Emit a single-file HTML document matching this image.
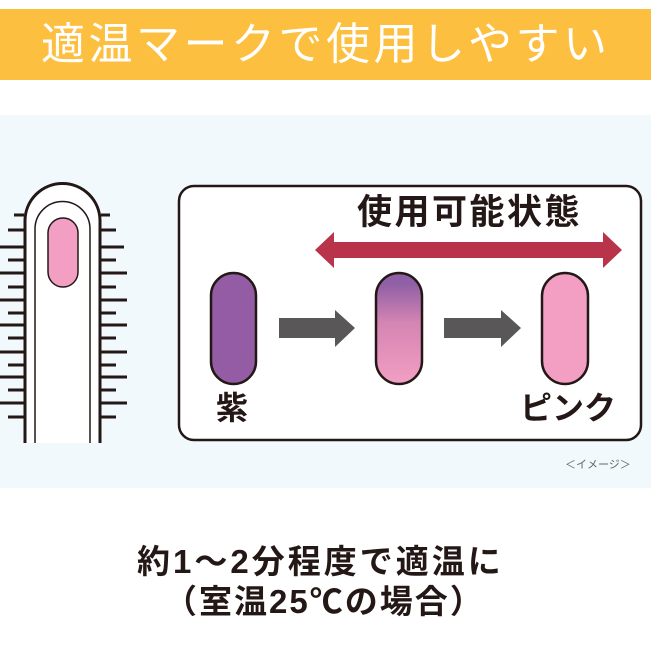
<!DOCTYPE html>
<html><head><meta charset="utf-8"><style>
html,body{margin:0;padding:0;background:#fff;}
body{width:651px;height:652px;position:relative;overflow:hidden;font-family:"Liberation Sans","Noto Sans CJK JP",sans-serif;}
.abs{position:absolute;}
.t{position:absolute;white-space:nowrap;line-height:1;}
</style></head><body>
<div class="abs" style="left:0;top:9px;width:651px;height:71px;background:#fdbf40;"></div>
<div class="t" style="left:41px;top:23px;font-size:44px;letter-spacing:3.5px;color:#fff;">適温マークで使用しやすい</div>
<div class="abs" style="left:0;top:115px;width:651px;height:373px;background:#f1f9fc;"></div>
<svg class="abs" style="left:0;top:0" width="651" height="652">
  <defs>
    <linearGradient id="g" x1="0" y1="0" x2="0" y2="1">
      <stop offset="0.1" stop-color="#9060a6"/><stop offset="0.45" stop-color="#d585b3"/><stop offset="1" stop-color="#f29fc3"/>
    </linearGradient>
  </defs>
  <g stroke="#231815" stroke-width="3">
    <line x1="14" y1="215" x2="24" y2="215"/><line x1="8" y1="230" x2="24" y2="230"/>
    <line x1="0" y1="247" x2="24" y2="247"/><line x1="8" y1="260" x2="24" y2="260"/>
    <line x1="0" y1="273" x2="24" y2="273"/><line x1="8" y1="287" x2="24" y2="287"/>
    <line x1="0" y1="300" x2="24" y2="300"/><line x1="8" y1="313" x2="24" y2="313"/>
    <line x1="0" y1="325" x2="24" y2="325"/><line x1="8" y1="338" x2="24" y2="338"/>
    <line x1="0" y1="352" x2="24" y2="352"/><line x1="8" y1="365" x2="24" y2="365"/>
    <line x1="0" y1="377" x2="24" y2="377"/><line x1="8" y1="390" x2="24" y2="390"/>
    <line x1="0" y1="403" x2="24" y2="403"/><line x1="8" y1="417" x2="24" y2="417"/>
    <line x1="101" y1="215" x2="110" y2="215"/><line x1="101" y1="230" x2="116" y2="230"/>
    <line x1="101" y1="247" x2="124" y2="247"/><line x1="101" y1="260" x2="116" y2="260"/>
    <line x1="101" y1="273" x2="127" y2="273"/><line x1="101" y1="287" x2="116" y2="287"/>
    <line x1="101" y1="300" x2="127" y2="300"/><line x1="101" y1="313" x2="116" y2="313"/>
    <line x1="101" y1="325" x2="127" y2="325"/><line x1="101" y1="338" x2="116" y2="338"/>
    <line x1="101" y1="352" x2="127" y2="352"/><line x1="101" y1="365" x2="116" y2="365"/>
    <line x1="101" y1="377" x2="127" y2="377"/><line x1="101" y1="390" x2="116" y2="390"/>
    <line x1="101" y1="403" x2="127" y2="403"/><line x1="101" y1="417" x2="116" y2="417"/>
  </g>
  <path d="M25 443 V221 A37.5 37.5 0 0 1 100 221 V443" fill="#fff" stroke="#231815" stroke-width="3"/>
  <path d="M35 443 V229 A27.5 27.5 0 0 1 90 229 V443" fill="none" stroke="#231815" stroke-width="1.5"/>
  <rect x="48" y="218" width="30" height="69" rx="15" fill="#f29fc3" stroke="#231815" stroke-width="1.5"/>
  <rect x="179" y="186" width="462" height="254" rx="15" fill="#fff" stroke="#231815" stroke-width="2.5"/>
  <polygon points="315,250 334,232 334,242 603,242 603,232 622,250 603,268 603,258 334,258 334,268" fill="#b9344b"/>
  <rect x="211" y="273" width="45" height="111" rx="22.5" fill="#935ca4" stroke="#231815" stroke-width="2.5"/>
  <rect x="376" y="273" width="46" height="111" rx="23" fill="url(#g)" stroke="#231815" stroke-width="2.5"/>
  <rect x="542" y="273" width="46" height="111" rx="23" fill="#f29fc3" stroke="#231815" stroke-width="2.5"/>
  <polygon points="279,318 335,318 335,310 355,328 335,347 335,338 279,338" fill="#595757"/>
  <polygon points="444,318 501,318 501,310 521,328 501,347 501,338 444,338" fill="#595757"/>
</svg>
<div class="t" style="left:357px;top:195px;font-size:35px;font-weight:bold;color:#231815;letter-spacing:2.5px;">使用可能状態</div>
<div class="t" style="left:216px;top:392px;font-size:32px;font-weight:bold;color:#231815;">紫</div>
<div class="t" style="left:520px;top:392px;font-size:32px;font-weight:bold;color:#231815;">ピンク</div>
<div class="t" style="left:565px;top:460px;font-size:11px;color:#666;">＜イメージ＞</div>
<div class="t" style="left:137px;top:545px;font-size:33px;font-weight:bold;color:#231815;letter-spacing:3px;">約1～2分程度で適温に</div>
<div class="t" style="left:164px;top:585px;font-size:33px;font-weight:bold;color:#231815;letter-spacing:2px;">（室温25℃の場合）</div>
</body></html>
